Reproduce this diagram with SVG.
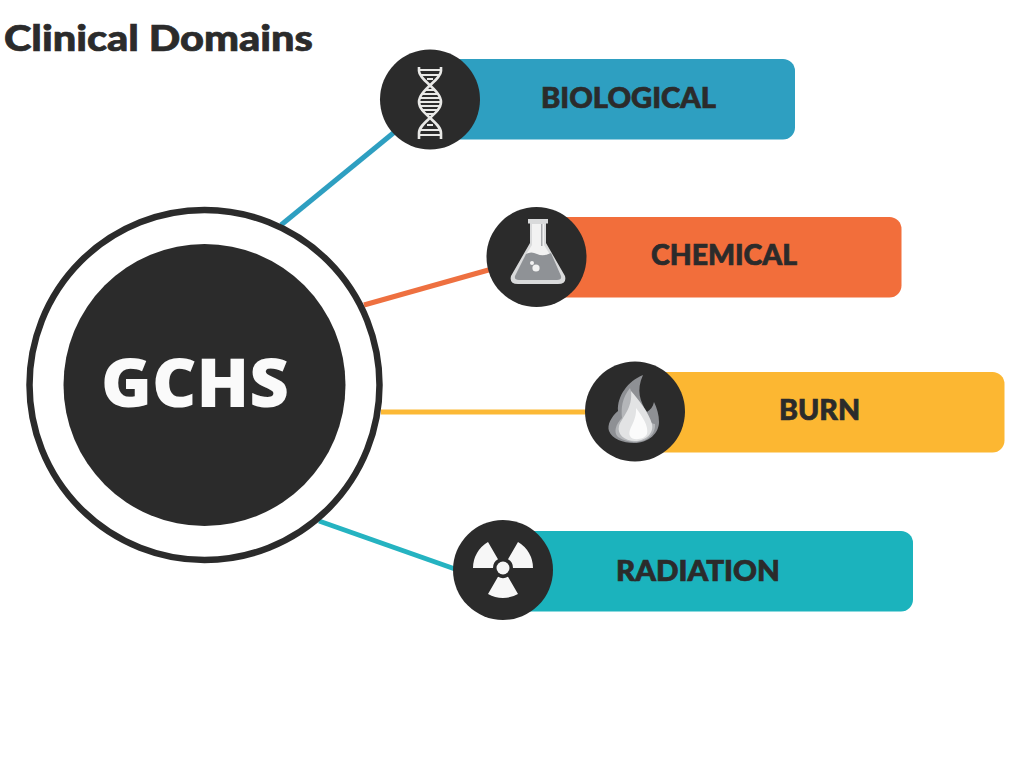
<svg xmlns="http://www.w3.org/2000/svg" width="1024" height="768" viewBox="0 0 1024 768">
<style>
text{font-family:"Lato","Open Sans","Liberation Sans",sans-serif;font-weight:900;fill:#2b2b2b;stroke:#2b2b2b;stroke-width:.7}
.lbl{font-size:28px;text-anchor:start}
.disc{fill:#2b2b2b}
.con{fill:none;stroke-width:5}
.dna{fill:none;stroke:#e9e9e7;stroke-width:2.600}
.rung{fill:none;stroke:#e9e9e7;stroke-width:1.800}
</style>
<rect width="1024" height="768" fill="#fff"/>
<text id="title" x="4" y="51" font-size="36" textLength="309" lengthAdjust="spacingAndGlyphs">Clinical Domains</text>
<g id="connectors">
<line class="con" x1="281" y1="225" x2="397" y2="130" stroke="#2e9fc1"/>
<line class="con" x1="364" y1="305" x2="492" y2="269" stroke="#ee7040"/>
<line class="con" x1="381" y1="412" x2="590" y2="412" stroke="#fcb936"/>
<line class="con" x1="319" y1="521" x2="455" y2="569" stroke="#25b3c1"/>
</g>
<g id="hub">
<circle cx="204.500" cy="385" r="175" fill="#fff" stroke="#2b2b2b" stroke-width="6.500"/>
<circle class="disc" cx="204.500" cy="385" r="141"/>
<text x="101" y="407" font-size="68" textLength="188" lengthAdjust="spacingAndGlyphs" style="fill:#fafafa;stroke:none;font-family:'Open Sans','Liberation Sans',sans-serif;font-weight:800">GCHS</text>
</g>
<g id="biological">
<rect x="440" y="59" width="355" height="80.500" rx="12" fill="#2e9fc1"/>
<circle class="disc" cx="430" cy="99.500" r="50"/>
<path class="dna" d="M419 67V71C419 80 441 90 441 102C441 114 419 122 419 133V139M441 67V71C441 80 419 90 419 102C419 114 441 122 441 133V139"/>
<path class="rung" d="M419 70H441M420 75H440M427 79H433M425 90H435M421 94H439M419 98H441M419 102H441M419 106H441M421 110H439M425 114H435M427 125H433M420 130H440M419 135H441"/>
<text class="lbl" x="541" y="107.500" textLength="175" lengthAdjust="spacingAndGlyphs">BIOLOGICAL</text>
</g>
<g id="chemical">
<rect x="547" y="217" width="354.500" height="80.500" rx="12" fill="#f26e3b"/>
<circle class="disc" cx="536.500" cy="257" r="50"/>
<path fill="#d9dadb" d="M528 219H548V223.500H546V243L565 276Q567 284 558 284H518Q509 284 511 276L530 243V223.500H528Z"/>
<path fill="#f2f2f2" d="M532 224H544V245L552 258H524L532 245Z"/>
<path fill="#8f9296" d="M526 254Q531 251 537 254T551 253L561 276Q562 280 557 280H519Q514 280 515 276Z"/>
<rect x="541" y="224" width="1.500" height="22" fill="#a8aaad"/>
<circle cx="532" cy="263" r="2" fill="#f2f2f2"/>
<circle cx="536" cy="268" r="3.600" fill="#f2f2f2"/>
<text class="lbl" x="651" y="264.500" textLength="146" lengthAdjust="spacingAndGlyphs">CHEMICAL</text>
</g>
<g id="burn">
<rect x="645" y="372" width="359.500" height="80.500" rx="12" fill="#fcb732"/>
<circle class="disc" cx="635" cy="411.500" r="50"/>
<path fill="#8e9094" d="M643 375C628 381 617 396 618 411C611 417 607 425 609 431C612 439 623 443 634 443C649 443 659 433 659 422C659 415 657 408 654 402C653 407 650 410 647 412C640 402 636 390 643 375Z"/>
<path fill="#b4b6b9" d="M630 388C622 398 621 408 622 418C616 424 613 432 618 437C624 441 631 442 635 442C648 442 656 433 655 424C651 424 648 420 645 415C639 406 633 399 630 388Z"/>
<path fill="#e2e3e4" d="M631 391C639 400 649 413 652 424C654 433 646 441 635 441C624 441 617 434 619 426C622 417 633 408 631 391Z"/>
<path fill="#fbfbfb" d="M636 408C642 416 649 426 647 434C644 440 632 441 630 436C627 429 637 422 636 408Z"/>
<text class="lbl" x="779" y="419.500" textLength="81" lengthAdjust="spacingAndGlyphs">BURN</text>
</g>
<g id="radiation">
<rect x="510" y="531" width="403" height="80.500" rx="12" fill="#1bb3bd"/>
<circle class="disc" cx="503" cy="570" r="50"/>
<path fill="#f7f7f7" d="M473 568A30 30 0 0 1 488 542L498 559.300A10 10 0 0 0 493 568ZM518 542A30 30 0 0 1 533 568H513A10 10 0 0 0 508 559.300ZM518 594A30 30 0 0 1 488 594L498 576.700A10 10 0 0 0 508 576.700Z"/>
<circle cx="503" cy="568" r="6.500" fill="#f7f7f7"/>
<text class="lbl" x="616" y="580.500" textLength="164" lengthAdjust="spacingAndGlyphs">RADIATION</text>
</g>
</svg>
